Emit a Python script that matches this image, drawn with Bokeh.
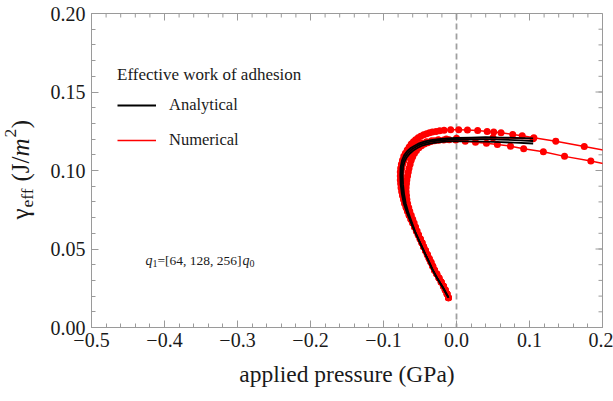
from math import pi
from bokeh.plotting import figure
from bokeh.layouts import row
from bokeh.models import (Range1d, FixedTicker, Label, Legend, LegendItem, Span,
                          CustomJSTickFormatter)
from bokeh.embed import file_html
from bokeh.resources import INLINE

# ---------------- data ----------------
# Analytical curves (q1 = 64, 128, 256 q0)
A1_x = [-0.011, -0.018, -0.026, -0.033, -0.039, -0.045, -0.051, -0.057, -0.0625, -0.0678,
        -0.0722, -0.0748, -0.0765, -0.077, -0.0766, -0.0746, -0.0716, -0.0676, -0.0626, -0.0574,
        -0.0512, -0.043, -0.035, -0.025, -0.013, 0.000, 0.020, 0.040, 0.060, 0.080, 0.105]
A1_y = [0.019, 0.025, 0.031, 0.037, 0.043, 0.049, 0.055, 0.061, 0.067, 0.073,
        0.079, 0.085, 0.091, 0.097, 0.102, 0.1065, 0.1098, 0.1123, 0.1143, 0.1158,
        0.1173, 0.1186, 0.1194, 0.1199, 0.1204, 0.1207, 0.1210, 0.1212, 0.1210, 0.1208, 0.1204]

A2_x = [-0.011, -0.018, -0.026, -0.033, -0.039, -0.045, -0.051, -0.057, -0.062, -0.067,
        -0.0712, -0.0735, -0.075, -0.0755, -0.075, -0.073, -0.070, -0.066, -0.061, -0.056,
        -0.050, -0.042, -0.034, -0.024, -0.012, 0.000, 0.020, 0.040, 0.060, 0.080, 0.105]
A2_y = [0.019, 0.025, 0.031, 0.037, 0.043, 0.049, 0.055, 0.061, 0.067, 0.073,
        0.079, 0.085, 0.091, 0.097, 0.102, 0.106, 0.109, 0.1115, 0.1135, 0.115,
        0.1165, 0.1176, 0.1185, 0.1191, 0.1195, 0.1198, 0.1200, 0.1200, 0.1197, 0.1194, 0.1188]

A3_x = [-0.011, -0.018, -0.026, -0.033, -0.039, -0.045, -0.051, -0.0565, -0.0612, -0.0658,
        -0.0695, -0.0718, -0.0732, -0.0737, -0.0732, -0.0712, -0.0682, -0.0642, -0.0592, -0.0542,
        -0.0482, -0.041, -0.033, -0.023, -0.011, 0.000, 0.020, 0.040, 0.060, 0.080, 0.105]
A3_y = [0.019, 0.025, 0.031, 0.037, 0.043, 0.049, 0.055, 0.061, 0.067, 0.073,
        0.079, 0.085, 0.091, 0.097, 0.102, 0.1055, 0.1083, 0.1107, 0.1127, 0.1142,
        0.1156, 0.1167, 0.1175, 0.1181, 0.1185, 0.1187, 0.1186, 0.1184, 0.1181, 0.1177, 0.1172]

# Numerical curves
N1_x = [-0.011, -0.013, -0.0155, -0.018, -0.021, -0.024, -0.027, -0.030, -0.0325, -0.035,
        -0.0375, -0.040, -0.0425, -0.045, -0.0475, -0.050, -0.0525, -0.055, -0.0575, -0.060,
        -0.0625, -0.065, -0.067, -0.069, -0.071, -0.0725, -0.074, -0.075, -0.076, -0.0765,
        -0.077, -0.077, -0.077, -0.0765, -0.0755, -0.074, -0.0722, -0.070, -0.0675, -0.0648,
        -0.062, -0.059, -0.056, -0.0525, -0.049, -0.045, -0.041, -0.037, -0.033, -0.028,
        -0.023, -0.017, -0.008, 0.003, 0.015, 0.029, 0.042, 0.051, 0.061, 0.077,
        0.090, 0.106, 0.136, 0.175, 0.215]
N1_y = [0.019, 0.0215, 0.024, 0.0265, 0.029, 0.0315, 0.034, 0.0365, 0.039, 0.0415,
        0.044, 0.0465, 0.049, 0.0515, 0.054, 0.0565, 0.059, 0.0615, 0.064, 0.0665,
        0.069, 0.0715, 0.074, 0.0765, 0.079, 0.0815, 0.084, 0.0865, 0.089, 0.0915,
        0.094, 0.0965, 0.099, 0.1015, 0.104, 0.1065, 0.109, 0.111, 0.113, 0.115,
        0.1168, 0.1183, 0.1196, 0.1208, 0.1218, 0.1227, 0.1234, 0.124, 0.1245, 0.1249,
        0.1253, 0.1257, 0.126, 0.126, 0.1258, 0.1254, 0.1249, 0.1245, 0.124, 0.123,
        0.1222, 0.1208, 0.1187, 0.1153, 0.1118]

N2_x = [-0.011, -0.013, -0.0155, -0.018, -0.021, -0.024, -0.027, -0.030, -0.0325, -0.035,
        -0.0375, -0.040, -0.0425, -0.045, -0.047, -0.0495, -0.052, -0.054, -0.056, -0.058,
        -0.060, -0.062, -0.064, -0.0655, -0.067, -0.068, -0.0685, -0.069, -0.069, -0.0685,
        -0.068, -0.067, -0.066, -0.065, -0.0635, -0.062, -0.060, -0.0575, -0.0548, -0.0515,
        -0.048, -0.044, -0.0395, -0.035, -0.030, -0.024, -0.0175, -0.010, -0.001, 0.012,
        0.026, 0.041, 0.056, 0.074, 0.092, 0.119, 0.148, 0.184, 0.222]
N2_y = [0.019, 0.0215, 0.024, 0.0265, 0.029, 0.0315, 0.034, 0.0365, 0.039, 0.0415,
        0.044, 0.0465, 0.049, 0.0515, 0.054, 0.0565, 0.059, 0.0615, 0.064, 0.0665,
        0.069, 0.0715, 0.074, 0.0765, 0.079, 0.0815, 0.084, 0.0865, 0.089, 0.0915,
        0.094, 0.0965, 0.099, 0.1015, 0.104, 0.1065, 0.1088, 0.111, 0.1128, 0.1145,
        0.1158, 0.1168, 0.1177, 0.1184, 0.1189, 0.1193, 0.1195, 0.1196, 0.1195, 0.1187,
        0.118, 0.1174, 0.1166, 0.1155, 0.1138, 0.112, 0.109, 0.106, 0.1025]

N3_x = [-0.011, -0.013, -0.0155, -0.018, -0.021, -0.024, -0.027, -0.030, -0.0325, -0.035,
        -0.0375, -0.040, -0.0425, -0.045, -0.0475, -0.050, -0.0525, -0.055, -0.0575, -0.060,
        -0.0625, -0.0648, -0.067, -0.069, -0.0708, -0.0722, -0.0735, -0.0745, -0.0752, -0.0757,
        -0.076, -0.076, -0.0757, -0.075, -0.0738, -0.072, -0.0698, -0.067, -0.064, -0.0605,
        -0.0565, -0.052, -0.047, -0.041, -0.034, -0.025, -0.014, 0.000, 0.050, 0.105]
N3_y = [0.019, 0.0215, 0.024, 0.0265, 0.029, 0.0315, 0.034, 0.0365, 0.039, 0.0415,
        0.044, 0.0465, 0.049, 0.0515, 0.054, 0.0565, 0.059, 0.0615, 0.064, 0.0665,
        0.069, 0.0715, 0.074, 0.0765, 0.079, 0.0815, 0.084, 0.0865, 0.089, 0.0915,
        0.094, 0.0965, 0.099, 0.1015, 0.104, 0.1063, 0.1085, 0.1105, 0.1122, 0.1138,
        0.1152, 0.1164, 0.1174, 0.1183, 0.119, 0.1196, 0.1201, 0.1205, 0.1209, 0.1203]

x_major = [-0.5, -0.4, -0.3, -0.2, -0.1, 0.0, 0.1, 0.2]
y_major = [0.0, 0.05, 0.10, 0.15, 0.20]
x_ref = 0.0  # dashed reference line at zero pressure

legend_title = "Effective work of adhesion"
legend_labels = ["Analytical", "Numerical"]
x_label = "applied pressure (GPa)"
y_label_parts = ["\u03b3", "eff", "(J/", "m", "2", ")"]
q_parts = ["q", "1", "=[64, 128, 256]", "q", "0"]

# ---------------- layout ----------------
X0, X1, Y0, Y1 = -0.5, 0.2, 0.0, 0.2
PAGE_W, PAGE_H = 613, 401
YLW = 44                      # strip holding the rotated y label
W, H = PAGE_W - YLW, PAGE_H
FRAME_L, FRAME_R, FRAME_T, FRAME_B = 91, 602, 13, 327   # page px
ML, MR, MT, MB = FRAME_L - YLW, PAGE_W - FRAME_R, FRAME_T, PAGE_H - FRAME_B
FW, FH = FRAME_R - FRAME_L, FRAME_B - FRAME_T
FONT = "Liberation Serif"
AX_COL = "#9a9a9a"
TXT = "#1a1a1a"


def dx(px):  # page px -> data x
    return X0 + (px - FRAME_L) * (X1 - X0) / FW


def dy(py):  # page px -> data y
    return Y0 + (FRAME_B - py) * (Y1 - Y0) / FH


x_minor = [round(-0.5 + 0.02 * i, 2) for i in range(36)]
y_minor = [round(0.01 * i, 2) for i in range(21)]

p = figure(width=W, height=H, output_backend="svg", toolbar_location=None,
           x_range=Range1d(X0, X1), y_range=Range1d(Y0, Y1),
           min_border_left=ML, min_border_right=MR, min_border_top=MT,
           min_border_bottom=MB)
p.grid.visible = False
p.outline_line_color = AX_COL
p.outline_line_width = 1

xa = p.below[0]
ya = p.left[0]
for ax, ticks, minors in [(xa, x_major, x_minor), (ya, y_major, y_minor)]:
    ax.ticker = FixedTicker(ticks=ticks, minor_ticks=minors)
    ax.axis_line_color = AX_COL
    ax.axis_line_width = 1
    ax.major_tick_line_color = AX_COL
    ax.minor_tick_line_color = AX_COL
    ax.major_tick_in = 7
    ax.major_tick_out = 0
    ax.minor_tick_in = 4
    ax.minor_tick_out = 0
    ax.major_label_text_font = FONT
    ax.major_label_text_color = TXT
    ax.major_label_text_font_size = "20px"

xa.formatter = CustomJSTickFormatter(
    code="return (tick < -1e-9 ? '\u2212' : '') + Math.abs(tick).toFixed(1);")
ya.formatter = CustomJSTickFormatter(code="return tick.toFixed(2);")
xa.major_label_standoff = 5
ya.major_label_standoff = 6
xa.axis_label = x_label
xa.axis_label_text_font = FONT
xa.axis_label_text_font_style = "normal"
xa.axis_label_text_font_size = "23.5px"
xa.axis_label_text_color = TXT
xa.axis_label_standoff = 11

# inward ticks on the top and right frame edges (mirrors of the axis ticks)
ty_maj = 7 * (Y1 - Y0) / FH
ty_min = 4 * (Y1 - Y0) / FH
tx_maj = 7 * (X1 - X0) / FW
tx_min = 4 * (X1 - X0) / FW
p.segment(x0=x_major, y0=[Y1] * len(x_major), x1=x_major, y1=[Y1 - ty_maj] * len(x_major),
          line_color=AX_COL, line_width=1)
p.segment(x0=x_minor, y0=[Y1] * len(x_minor), x1=x_minor, y1=[Y1 - ty_min] * len(x_minor),
          line_color=AX_COL, line_width=1)
p.segment(x0=[X1] * len(y_major), y0=y_major, x1=[X1 - tx_maj] * len(y_major), y1=y_major,
          line_color=AX_COL, line_width=1)
p.segment(x0=[X1] * len(y_minor), y0=y_minor, x1=[X1 - tx_min] * len(y_minor), y1=y_minor,
          line_color=AX_COL, line_width=1)

p.add_layout(Span(location=x_ref, dimension="height", line_color="#a0a0a0",
                  line_width=1.8, line_dash="6 4", level="underlay"))

RED = "#ff0000"
n_lines = []
for xs, ys in [(N1_x, N1_y), (N2_x, N2_y), (N3_x, N3_y)]:
    r = p.line(xs, ys, line_color=RED, line_width=1.5)
    p.scatter(xs, ys, size=7, marker="circle", fill_color=RED, line_color=None)
    n_lines.append(r)

a_lines = []
for xs, ys in [(A3_x, A3_y), (A2_x, A2_y), (A1_x, A1_y)]:
    a_lines.append(p.line(xs, ys, line_color="black", line_width=1.8))

legend = Legend(items=[LegendItem(label=legend_labels[0], renderers=[a_lines[0]]),
                       LegendItem(label=legend_labels[1], renderers=[n_lines[0]])],
                title=legend_title, location=(26, 177))
legend.title_text_font = FONT
legend.title_text_font_size = "17px"
legend.title_text_font_style = "normal"
legend.title_text_color = TXT
legend.title_standoff = 10
legend.label_text_font = FONT
legend.label_text_font_size = "16.5px"
legend.label_text_color = TXT
legend.glyph_width = 39
legend.glyph_height = 20
legend.label_height = 20
legend.label_standoff = 13
legend.spacing = 15
legend.padding = 0
legend.margin = 0
legend.border_line_alpha = 0
legend.background_fill_alpha = 0
p.add_layout(legend)

# q1 annotation (page px positions of each piece)
q_specs = [(q_parts[0], 145, 260, "14px", "italic"),
           (q_parts[1], 152, 263, "10px", "normal"),
           (q_parts[2], 157, 260, "13.5px", "normal"),
           (q_parts[3], 242, 260, "14px", "italic"),
           (q_parts[4], 249, 263, "10px", "normal")]
for t, px, py, fs, st in q_specs:
    p.add_layout(Label(x=dx(px), y=dy(py), text=t, text_align="left",
                       text_baseline="alphabetic", text_font=FONT, text_font_size=fs,
                       text_font_style=st, text_color=TXT))

# ---- strip with the rotated y-axis label ----
# The row aligns this strip's frame with the main frame (page y 13..327), so a
# flipped range over that span makes data y equal to page y.
yl = figure(width=YLW, height=PAGE_H, output_backend="svg", toolbar_location=None,
            x_range=Range1d(0, YLW), y_range=Range1d(FRAME_B, FRAME_T),
            min_border=0, x_axis_location=None, y_axis_location=None)
yl.grid.visible = False
yl.outline_line_color = None
S_MAIN, S_SUB = "25px", "17.5px"
# text, centre x, centre y (page px), size, style -- each piece centred on its box
y_specs = [(y_label_parts[0], 20.0, 213.5, S_MAIN, "normal"),
           (y_label_parts[1], 26.5, 197.5, S_SUB, "normal"),
           (y_label_parts[2], 19.5, 168.5, S_MAIN, "normal"),
           (y_label_parts[3], 19.5, 147.0, S_MAIN, "italic"),
           (y_label_parts[4], 10.0, 132.5, S_SUB, "normal"),
           (y_label_parts[5], 19.5, 123.5, S_MAIN, "normal")]
for t, cx, cy, fs, st in y_specs:
    yl.add_layout(Label(x=cx, y=cy, text=t, angle=pi / 2, text_align="center",
                        text_baseline="middle", text_font=FONT, text_font_size=fs,
                        text_font_style=st, text_color=TXT))

layout = row(yl, p, spacing=0)
open("out.html", "w").write(file_html(layout, INLINE))
